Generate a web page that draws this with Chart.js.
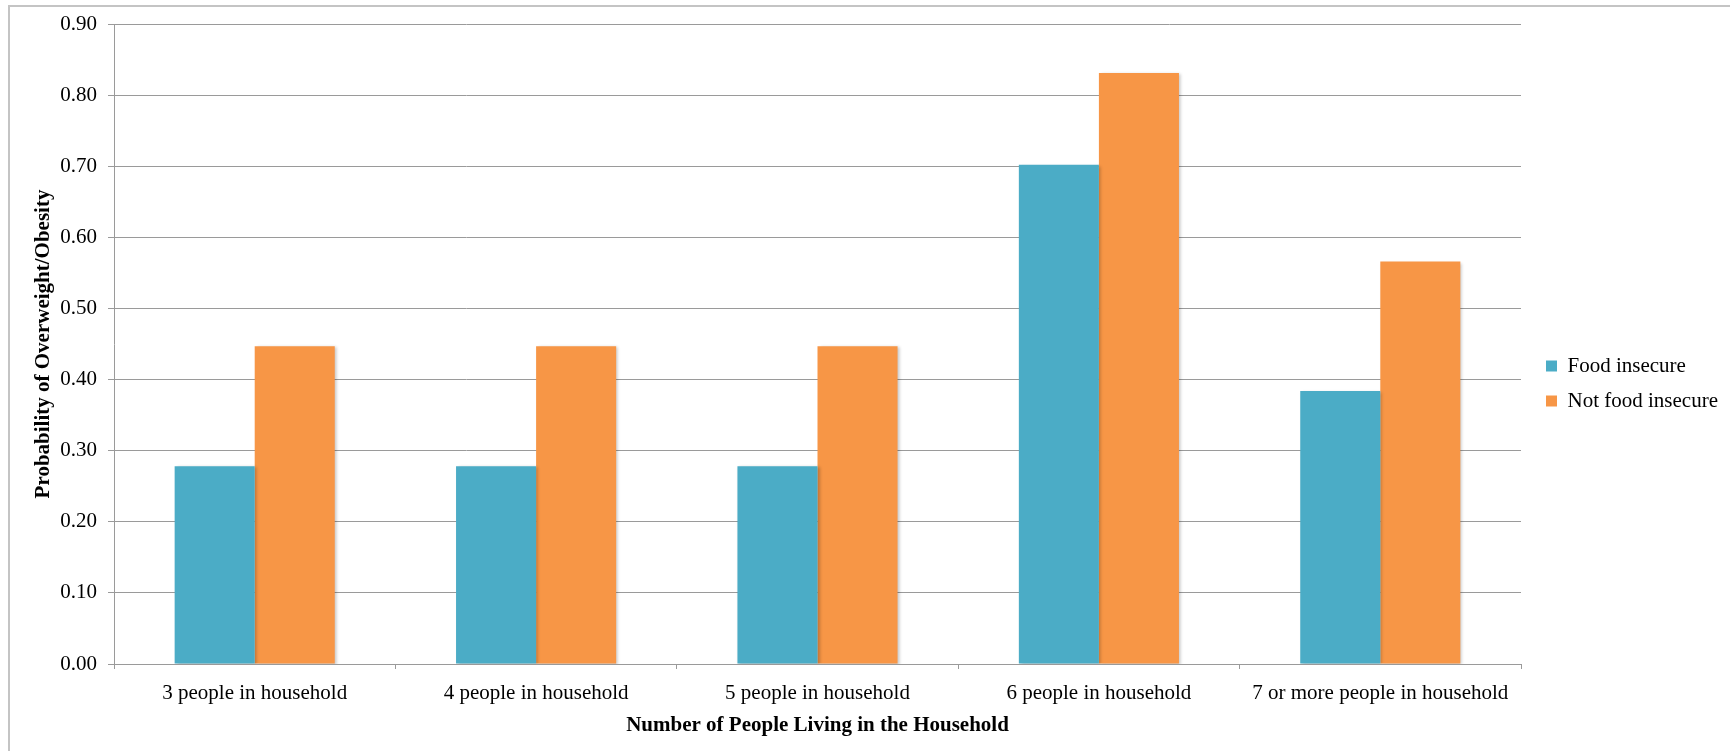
<!DOCTYPE html>
<html>
<head>
<meta charset="utf-8">
<script src="https://cdn.jsdelivr.net/npm/chart.js@4"></script>
<style>
  html, body { margin: 0; padding: 0; background: #ffffff; overflow: hidden; }
  #frame { position: absolute; left: 8px; top: 5px; width: 1800px; height: 800px;
           border-left: 2px solid #c4c4c4; border-top: 2px solid #c4c4c4; box-sizing: border-box; }
  #wrap { position: absolute; left: 0; top: 0; width: 1730px; height: 751px; }
</style>
</head>
<body>
<div id="frame"></div>
<div id="wrap"><canvas id="c" width="1730" height="751"></canvas></div>
<script>
const categories = [
  "3 people in household",
  "4 people in household",
  "5 people in household",
  "6 people in household",
  "7 or more people in household"
];
const foodInsecure    = [0.278, 0.278, 0.278, 0.702, 0.384];
const notFoodInsecure = [0.447, 0.447, 0.447, 0.831, 0.566];
const seriesNames = ["Food insecure", "Not food insecure"];
const yMin = 0, yMax = 0.9, yStep = 0.1;
const xTitle = "Number of People Living in the Household";
const yTitle = "Probability of Overweight/Obesity";

const FONT = "'Liberation Serif', 'Times New Roman', serif";

const legendFix = {
  id: 'legendFix',
  beforeLayout(chart) {
    const lg = chart.legend;
    if (!lg || lg._fitPatched) return;
    const orig = lg.fit.bind(lg);
    lg.fit = function () { orig(); this.width = 209; };
    lg._fitPatched = true;
  },
  afterLayout(chart) {
    const lg = chart.legend;
    if (!lg) return;
    const dx = 11, dy = -4;
    lg.left += dx; lg.right += dx;
    lg.top += dy; lg.bottom += dy;
  }
};
const barShadow = {
  id: 'barShadow',
  beforeDatasetsDraw(chart) {
    const ctx = chart.ctx;
    ctx.save();
    ctx.shadowColor = 'rgba(0,0,0,0.22)';
    ctx.shadowBlur = 3;
    ctx.shadowOffsetX = 2;
    ctx.shadowOffsetY = 1;
  },
  afterDatasetsDraw(chart) {
    chart.ctx.restore();
  }
};

new Chart(document.getElementById('c'), {
  type: 'bar',
  data: {
    labels: categories,
    datasets: [
      { label: seriesNames[0], data: foodInsecure, backgroundColor: '#4BACC6', borderWidth: 0 },
      { label: seriesNames[1], data: notFoodInsecure, backgroundColor: '#F79646', borderWidth: 0 }
    ]
  },
  options: {
    responsive: false,
    animation: false,
    devicePixelRatio: 1,
    datasets: { bar: { categoryPercentage: 0.569, barPercentage: 1.0 } },
    layout: { padding: { top: 24, left: 0, right: 0, bottom: 0 } },
    plugins: {
      tooltip: { enabled: false },
      legend: {
        position: 'right',
        align: 'center',
        labels: {
          boxWidth: 11,
          boxHeight: 11,
          padding: 14,
          color: '#000',
          font: { family: FONT, size: 21 }
        }
      }
    },
    scales: {
      x: {
        grid: { display: true, offset: true, drawOnChartArea: false, drawTicks: true, tickLength: 5, color: '#9a9a9a', lineWidth: 1 },
        border: { display: true, color: '#9a9a9a', width: 1 },
        ticks: { color: '#000', font: { family: FONT, size: 21 }, padding: 12, maxRotation: 0, autoSkip: false },
        title: { display: true, text: xTitle, color: '#000', font: { family: FONT, size: 21, weight: 'bold' }, padding: { top: 0, bottom: 13 } },
        afterFit(scale) { scale.height = 87; }
      },
      y: {
        min: yMin, max: yMax,
        ticks: { stepSize: yStep, color: '#000', font: { family: FONT, size: 21 }, padding: 11,
                 callback: v => Number(v).toFixed(2) },
        grid: { color: '#9a9a9a', lineWidth: 1, drawTicks: true, tickLength: 6 },
        border: { display: true, color: '#9a9a9a', width: 1 },
        title: { display: true, text: yTitle, color: '#000', font: { family: FONT, size: 21, weight: 'bold' }, padding: { top: 31, bottom: 0 } },
        afterFit(scale) { scale.width = 114; }
      }
    }
  },
  plugins: [legendFix, barShadow]
});
</script>
</body>
</html>
